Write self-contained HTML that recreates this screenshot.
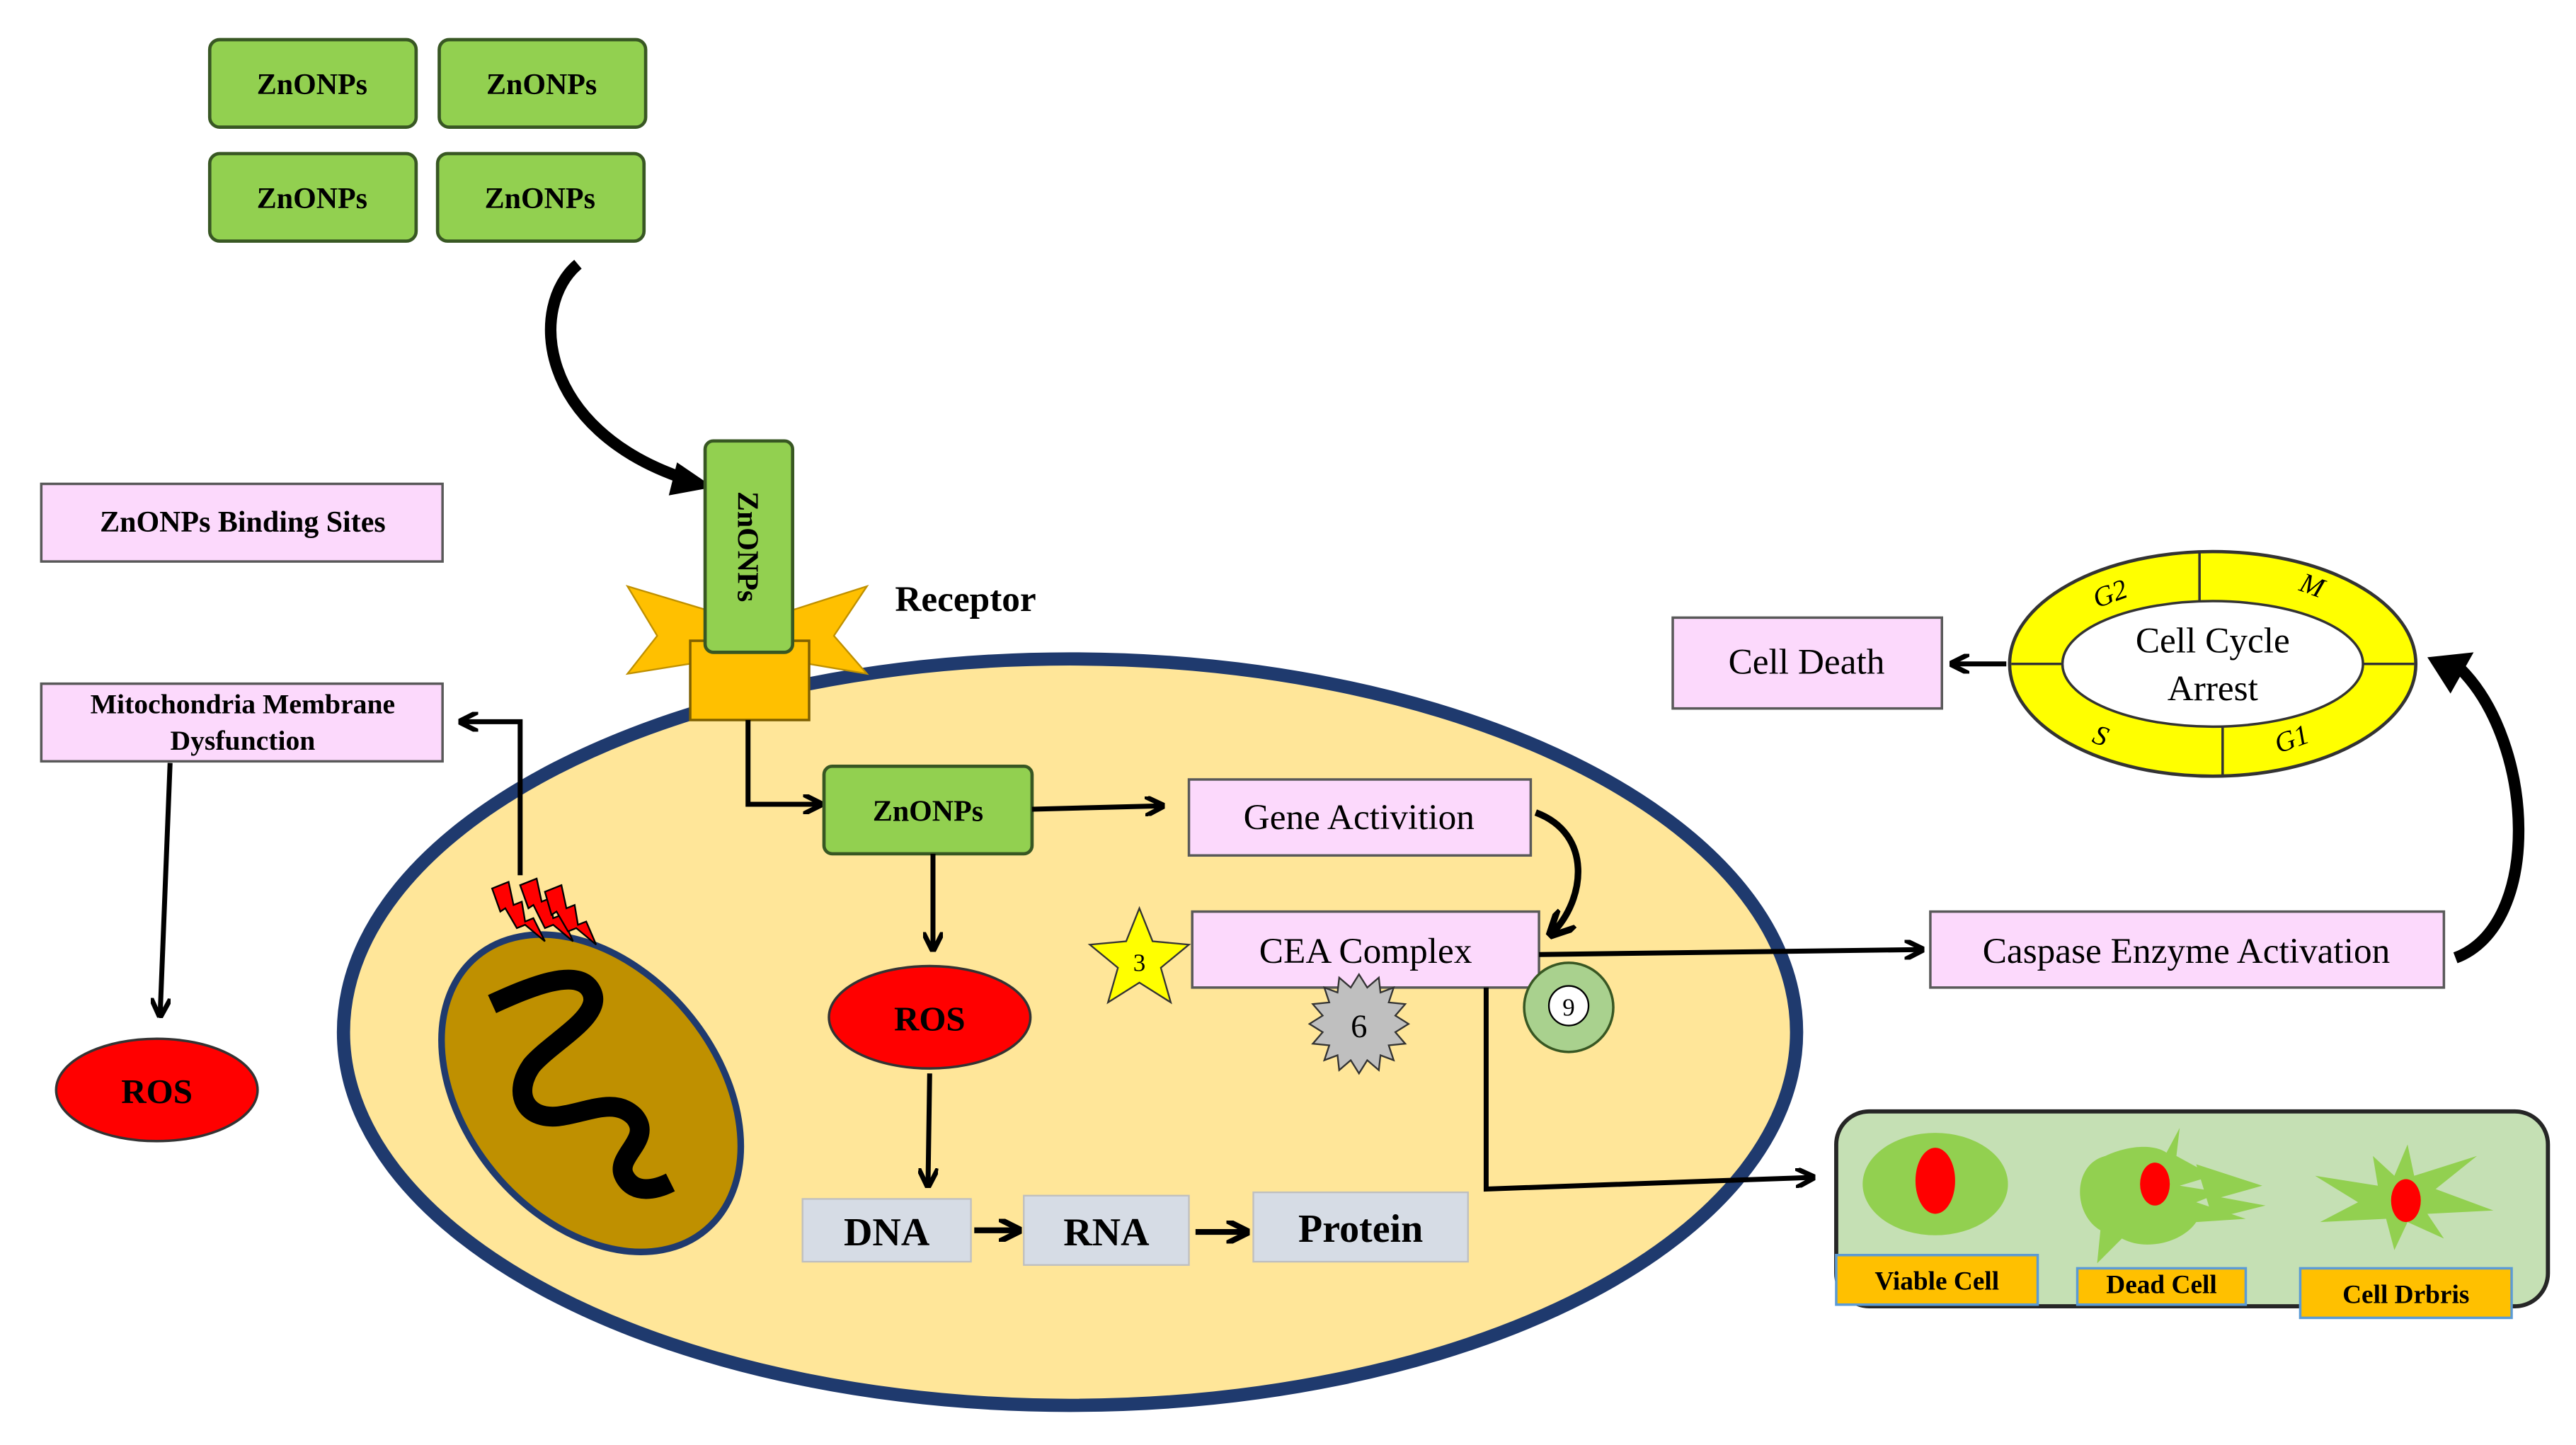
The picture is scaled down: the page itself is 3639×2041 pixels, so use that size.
<!DOCTYPE html>
<html><head><meta charset="utf-8"><style>
html,body{margin:0;padding:0;background:#fff;}
svg{display:block;}
text{font-family:"Liberation Serif",serif;}
.b{font-weight:bold;}
</style></head><body>
<svg width="3639" height="2041" viewBox="0 0 1560 875" preserveAspectRatio="none" xmlns="http://www.w3.org/2000/svg">
<defs>
<marker id="ah" viewBox="0 0 10 10" refX="8" refY="5" markerWidth="4" markerHeight="4" orient="auto">
<path d="M0,0 L10,5 L0,10" fill="none" stroke="#000" stroke-width="2.5"/>
</marker>
</defs>
<rect width="1560" height="875" fill="#fff"/>

<g fill="#92d050" stroke="#385723" stroke-width="2">
<rect x="127" y="24" width="125" height="53" rx="6"/>
<rect x="266" y="24" width="125" height="53" rx="6"/>
<rect x="127" y="93" width="125" height="53" rx="6"/>
<rect x="265" y="93" width="125" height="53" rx="6"/>
</g>
<g font-size="18" text-anchor="middle" fill="#000">
<text x="189" y="57" class="b">ZnONPs</text>
<text x="328" y="57" class="b">ZnONPs</text>
<text x="189" y="126" class="b">ZnONPs</text>
<text x="327" y="126" class="b">ZnONPs</text>
</g>

<path d="M350,160 C320,185 325,260 415,290" fill="none" stroke="#000" stroke-width="7"/>
<path d="M410,280 L432,295 L405,300 Z" fill="#000"/>

<ellipse cx="648" cy="625" rx="440" ry="226" fill="#ffe699" stroke="#1f3a6e" stroke-width="8"/>

<polygon points="380,355 430,370 478,370 525,355 505,385 525,408 478,400 430,400 380,408 398,385" fill="#ffc000" stroke="#bf9000" stroke-width="1"/>
<rect x="418" y="388" width="72" height="48" fill="#ffc000" stroke="#7f6000" stroke-width="1.5"/>
<rect x="427" y="267" width="53" height="128" rx="5" fill="#92d050" stroke="#385723" stroke-width="2"/>
<text x="0" y="0" transform="translate(447,331) rotate(90)" font-size="18" text-anchor="middle" class="b">ZnONPs</text>
<text x="542" y="370" font-size="22" class="b">Receptor</text>

<rect x="25" y="293" width="243" height="47" fill="#fcd9fc" stroke="#595959" stroke-width="1.5"/>
<text x="147" y="322" font-size="18" text-anchor="middle" class="b">ZnONPs Binding Sites</text>
<rect x="25" y="414" width="243" height="47" fill="#fcd9fc" stroke="#595959" stroke-width="1.5"/>
<text x="147" y="432" font-size="17" text-anchor="middle" class="b">Mitochondria Membrane</text>
<text x="147" y="454" font-size="17" text-anchor="middle" class="b">Dysfunction</text>
<line x1="103" y1="462" x2="97" y2="614" stroke="#000" stroke-width="3" marker-end="url(#ah)"/>
<ellipse cx="95" cy="660" rx="61" ry="31" fill="#ff0000" stroke="#333" stroke-width="1.5"/>
<text x="95" y="668" font-size="21" text-anchor="middle" class="b">ROS</text>

<ellipse cx="358" cy="662" rx="108" ry="76" transform="rotate(50 358 662)" fill="#bf9000" stroke="#1f3a6e" stroke-width="4"/>
<path d="M298,608 C320,598 350,585 358,600 C366,615 335,630 322,645 C310,662 318,678 338,676 C355,674 372,664 384,676 C396,690 372,700 378,712 C384,724 398,720 406,716" fill="none" stroke="#000" stroke-width="12"/>
<g fill="#ff0000" stroke="#000" stroke-width="1">
<polygon points="298,538 308,534 311,548 316,546 318,558 323,556 330,570 318,560 313,562 306,550 303,552"/>
<polygon points="315,536 325,532 328,546 333,544 335,556 340,554 347,570 335,560 330,562 323,548 320,550"/>
<polygon points="330,540 340,536 343,550 348,548 350,560 355,558 361,572 349,562 344,564 337,552 334,554"/>
</g>
<polyline points="315,530 315,437 280,437" fill="none" stroke="#000" stroke-width="3" marker-end="url(#ah)"/>

<polyline points="453,436 453,487 496,487" fill="none" stroke="#000" stroke-width="3" marker-end="url(#ah)"/>
<rect x="499" y="464" width="126" height="53" rx="5" fill="#92d050" stroke="#385723" stroke-width="2"/>
<text x="562" y="497" font-size="18" text-anchor="middle" class="b">ZnONPs</text>
<line x1="625" y1="490" x2="703" y2="488" stroke="#000" stroke-width="3" marker-end="url(#ah)"/>
<rect x="720" y="472" width="207" height="46" fill="#fcd9fc" stroke="#595959" stroke-width="1.5"/>
<text x="823" y="502" font-size="22" text-anchor="middle">Gene Activition</text>
<path d="M930,492 C965,505 960,545 940,565" fill="none" stroke="#000" stroke-width="4" marker-end="url(#ah)"/>

<line x1="565" y1="517" x2="565" y2="574" stroke="#000" stroke-width="3" marker-end="url(#ah)"/>
<ellipse cx="563" cy="616" rx="61" ry="31" fill="#ff0000" stroke="#333" stroke-width="1.5"/>
<text x="563" y="624" font-size="21" text-anchor="middle" class="b">ROS</text>
<line x1="563" y1="650" x2="562" y2="717" stroke="#000" stroke-width="3" marker-end="url(#ah)"/>

<rect x="486" y="726" width="102" height="38" fill="#d6dce5" stroke="#bfbfbf"/>
<text x="537" y="754" font-size="24" text-anchor="middle" class="b">DNA</text>
<rect x="620" y="724" width="100" height="42" fill="#d6dce5" stroke="#bfbfbf"/>
<text x="670" y="754" font-size="24" text-anchor="middle" class="b">RNA</text>
<rect x="759" y="722" width="130" height="42" fill="#d6dce5" stroke="#bfbfbf"/>
<text x="824" y="752" font-size="24" text-anchor="middle" class="b">Protein</text>
<line x1="590" y1="745" x2="616" y2="745" stroke="#000" stroke-width="3.5" marker-end="url(#ah)"/>
<line x1="724" y1="746" x2="754" y2="746" stroke="#000" stroke-width="3.5" marker-end="url(#ah)"/>

<polygon points="690,550 698,570 720,572 703,586 709,607 690,595 671,607 677,586 660,572 682,570" fill="#ffff00" stroke="#333" stroke-width="1"/>
<text x="690" y="588" font-size="15" text-anchor="middle">3</text>
<rect x="722" y="552" width="210" height="46" fill="#fcd9fc" stroke="#595959" stroke-width="1.5"/>
<text x="827" y="583" font-size="22" text-anchor="middle">CEA Complex</text>
<g transform="translate(823,620)">
<polygon fill="#bfbfbf" stroke="#333" stroke-width="1" points="0,-30 5,-22 12,-28 13,-19 21,-22 18,-13 28,-12 22,-5 30,0 22,5 28,12 18,13 21,22 13,19 12,28 5,22 0,30 -5,22 -12,28 -13,19 -21,22 -18,13 -28,12 -22,5 -30,0 -22,-5 -28,-12 -18,-13 -21,-22 -13,-19 -12,-28 -5,-22"/>
<text x="0" y="8" font-size="20" text-anchor="middle">6</text>
</g>
<circle cx="950" cy="610" r="27" fill="#a9d18e" stroke="#385723" stroke-width="1.5"/>
<circle cx="950" cy="609" r="12" fill="#fff" stroke="#000" stroke-width="1"/>
<text x="950" y="615" font-size="15" text-anchor="middle">9</text>
<line x1="932" y1="578" x2="1163" y2="575" stroke="#000" stroke-width="3" marker-end="url(#ah)"/>
<rect x="1169" y="552" width="311" height="46" fill="#fcd9fc" stroke="#595959" stroke-width="1.5"/>
<text x="1324" y="583" font-size="22" text-anchor="middle">Caspase Enzyme Activation</text>
<path d="M1487,580 C1540,560 1535,450 1490,405" fill="none" stroke="#000" stroke-width="7"/>
<path d="M1470,398 L1498,395 L1484,420 Z" fill="#000"/>

<ellipse cx="1340" cy="402" rx="123" ry="68" fill="#ffff00" stroke="#333" stroke-width="2"/>
<ellipse cx="1340" cy="402" rx="91" ry="38" fill="#fff" stroke="#333" stroke-width="1.5"/>
<g stroke="#333" stroke-width="1.5">
<line x1="1332" y1="335" x2="1332" y2="364"/>
<line x1="1346" y1="440" x2="1346" y2="469"/>
<line x1="1218" y1="402" x2="1249" y2="402"/>
<line x1="1431" y1="402" x2="1462" y2="402"/>
</g>
<g font-size="17" font-style="italic" text-anchor="middle">
<text x="1278" y="365" transform="rotate(-20 1278 360)">G2</text>
<text x="1400" y="360" transform="rotate(20 1400 355)">M</text>
<text x="1272" y="451" transform="rotate(20 1272 446)">S</text>
<text x="1388" y="453" transform="rotate(-20 1388 448)">G1</text>
</g>
<text x="1340" y="395" font-size="22" text-anchor="middle">Cell Cycle</text>
<text x="1340" y="424" font-size="22" text-anchor="middle">Arrest</text>
<line x1="1215" y1="402" x2="1183" y2="402" stroke="#000" stroke-width="3" marker-end="url(#ah)"/>
<rect x="1013" y="374" width="163" height="55" fill="#fcd9fc" stroke="#595959" stroke-width="1.5"/>
<text x="1094" y="408" font-size="22" text-anchor="middle">Cell Death</text>

<polyline points="900,598 900,720 1097,713" fill="none" stroke="#000" stroke-width="3" marker-end="url(#ah)"/>
<rect x="1112" y="673" width="431" height="118" rx="20" fill="#c5e0b4" stroke="#262626" stroke-width="2.5"/>
<ellipse cx="1172" cy="717" rx="44" ry="31" fill="#92d050"/>
<ellipse cx="1172" cy="715" rx="12" ry="20" fill="#ff0000"/>
<path d="M1320,683 L1318,700 L1340,712 L1320,718 L1345,722 L1330,728 L1360,738 L1330,740 C1322,752 1300,758 1285,750 L1270,765 L1272,745 C1255,735 1255,705 1275,700 C1290,693 1305,693 1312,698 Z" fill="#92d050"/>
<path d="M1330,705 L1370,718 L1345,725 L1372,730 L1340,738 Z" fill="#92d050"/>
<ellipse cx="1305" cy="717" rx="9" ry="13" fill="#ff0000"/>
<polygon fill="#92d050" points="1458,693 1462,712 1500,700 1475,720 1510,733 1470,735 1480,750 1458,740 1450,757 1445,738 1405,740 1428,728 1402,712 1440,718 1437,700 1450,712"/>
<ellipse cx="1457" cy="727" rx="9" ry="13" fill="#ff0000"/>
<g fill="#ffc000" stroke="#5b9bd5" stroke-width="1.5">
<rect x="1112" y="760" width="122" height="30"/>
<rect x="1258" y="768" width="102" height="22"/>
<rect x="1393" y="768" width="128" height="30"/>
</g>
<text x="1173" y="781" font-size="16" text-anchor="middle" class="b">Viable Cell</text>
<text x="1309" y="783" font-size="16" text-anchor="middle" class="b">Dead Cell</text>
<text x="1457" y="789" font-size="16" text-anchor="middle" class="b">Cell Drbris</text>
</svg>
</body></html>
